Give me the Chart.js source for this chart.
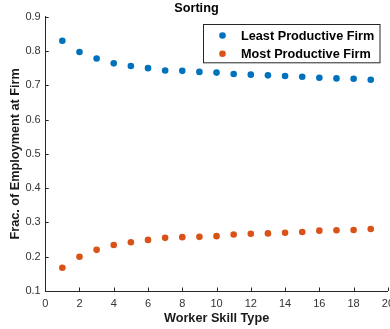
<!DOCTYPE html>
<html>
<head>
<meta charset="utf-8">
<script src="https://cdn.jsdelivr.net/npm/chart.js@4/dist/chart.umd.min.js"></script>
<style>
html,body{margin:0;padding:0;overflow:hidden;background:#fff;}
#wrap{position:relative;width:400px;height:329px;}
</style>
</head>
<body>
<div id="wrap"><canvas id="c"></canvas></div>
<script>
const chartTitle = "Sorting";
const xTitle = "Worker Skill Type";
const yTitle = "Frac. of Employment at Firm";
const seriesNames = ["Least Productive Firm", "Most Productive Firm"];
const workerSkill = [1,2,3,4,5,6,7,8,9,10,11,12,13,14,15,16,17,18,19];
const leastProductive = [0.830,0.797,0.778,0.764,0.756,0.750,0.743,0.742,0.739,0.737,0.733,0.731,0.729,0.727,0.725,0.722,0.720,0.719,0.716];
const mostProductive  = [0.168,0.200,0.220,0.234,0.242,0.249,0.255,0.257,0.258,0.260,0.265,0.267,0.268,0.270,0.272,0.276,0.277,0.278,0.281];
const xTicks = [0,2,4,6,8,10,12,14,16,18,20];
const yTicks = [0.1,0.2,0.3,0.4,0.5,0.6,0.7,0.8,0.9];
const colors = ["#0072BD", "#D95319"];

const FONT = "'Liberation Sans', Arial, Helvetica, sans-serif";

const innerTicks = {
  id: 'innerTicks',
  afterDatasetsDraw(chart) {
    const {ctx, chartArea: a, scales: {x, y}} = chart;
    ctx.save();
    ctx.strokeStyle = '#262626';
    ctx.lineWidth = 1;
    ctx.beginPath();
    xTicks.forEach(v => {
      const px = Math.round(x.getPixelForValue(v)) + 0.5;
      ctx.moveTo(px, a.bottom);
      ctx.lineTo(px, a.bottom - 3.5);
    });
    yTicks.forEach(v => {
      const py = Math.round(y.getPixelForValue(v)) + 0.5;
      ctx.moveTo(a.left, py);
      ctx.lineTo(a.left + 3.5, py);
    });
    ctx.stroke();
    ctx.restore();
  }
};

const boxLegend = {
  id: 'boxLegend',
  afterDraw(chart) {
    const {ctx, chartArea: a} = chart;
    const w = 176.5, h = 38.3;
    const bx = Math.round(a.right - 7.9 - w) + 0.5;
    const by = Math.round(a.top + 7.3) + 0.5;
    ctx.save();
    ctx.fillStyle = '#fff';
    ctx.fillRect(bx, by, w, h);
    ctx.strokeStyle = '#262626';
    ctx.lineWidth = 1;
    ctx.strokeRect(bx, by, w, h);
    ctx.font = "bold 12.7px " + FONT;
    ctx.textBaseline = 'middle';
    ctx.textAlign = 'left';
    chart.data.datasets.forEach((ds, i) => {
      const cy = by + 11 + i * 18.3;
      ctx.fillStyle = ds.backgroundColor;
      ctx.beginPath();
      ctx.arc(bx + 19, cy, 3.3, 0, Math.PI * 2);
      ctx.fill();
      ctx.fillStyle = '#000';
      ctx.fillText(ds.label, bx + 37.5, cy + 0.5);
    });
    ctx.restore();
  }
};

new Chart(document.getElementById('c'), {
  type: 'scatter',
  data: {
    datasets: [
      {
        label: seriesNames[0],
        data: workerSkill.map((s, i) => ({x: s, y: leastProductive[i]})),
        backgroundColor: colors[0], borderColor: colors[0],
        pointRadius: 3.3, pointBorderWidth: 0, showLine: false
      },
      {
        label: seriesNames[1],
        data: workerSkill.map((s, i) => ({x: s, y: mostProductive[i]})),
        backgroundColor: colors[1], borderColor: colors[1],
        pointRadius: 3.3, pointBorderWidth: 0, showLine: false
      }
    ]
  },
  options: {
    responsive: true,
    maintainAspectRatio: false,
    animation: false,
    layout: {padding: {left: 0, right: 7.1, top: 0, bottom: 0}},
    plugins: {
      legend: {display: false},
      tooltip: {enabled: false},
      title: {
        display: true, text: chartTitle, color: '#000',
        font: {family: FONT, size: 12.7, weight: 'bold', lineHeight: 1.2},
        padding: {top: 1, bottom: 0.46}
      }
    },
    scales: {
      x: {
        type: 'linear', min: 0, max: 20,
        afterFit(s) { s.height = 38; },
        afterBuildTicks(s) { s.ticks = xTicks.map(v => ({value: v})); },
        grid: {display: false, drawTicks: false},
        border: {display: true, color: '#262626', width: 1},
        ticks: {color: '#333', padding: 6, maxRotation: 0, autoSkip: false,
                font: {family: FONT, size: 11}},
        title: {display: true, text: xTitle, color: '#1a1a1a',
                font: {family: FONT, size: 12.7, weight: 'bold', lineHeight: 1.2},
                padding: {top: 0, bottom: 2.4}}
      },
      y: {
        type: 'linear', min: 0.1, max: 0.9,
        afterFit(s) { s.width = 45.2; },
        afterBuildTicks(s) { s.ticks = yTicks.map(v => ({value: v})); },
        grid: {display: false, drawTicks: false},
        border: {display: true, color: '#262626', width: 1},
        ticks: {color: '#333', padding: 4.5, autoSkip: false,
                font: {family: FONT, size: 11},
                callback: v => Number(v).toFixed(1)},
        title: {display: true, text: yTitle, color: '#1a1a1a',
                font: {family: FONT, size: 12.7, weight: 'bold', lineHeight: 1.2},
                padding: {top: 7.9, bottom: 0}}
      }
    }
  },
  plugins: [innerTicks, boxLegend]
});
</script>
</body>
</html>
